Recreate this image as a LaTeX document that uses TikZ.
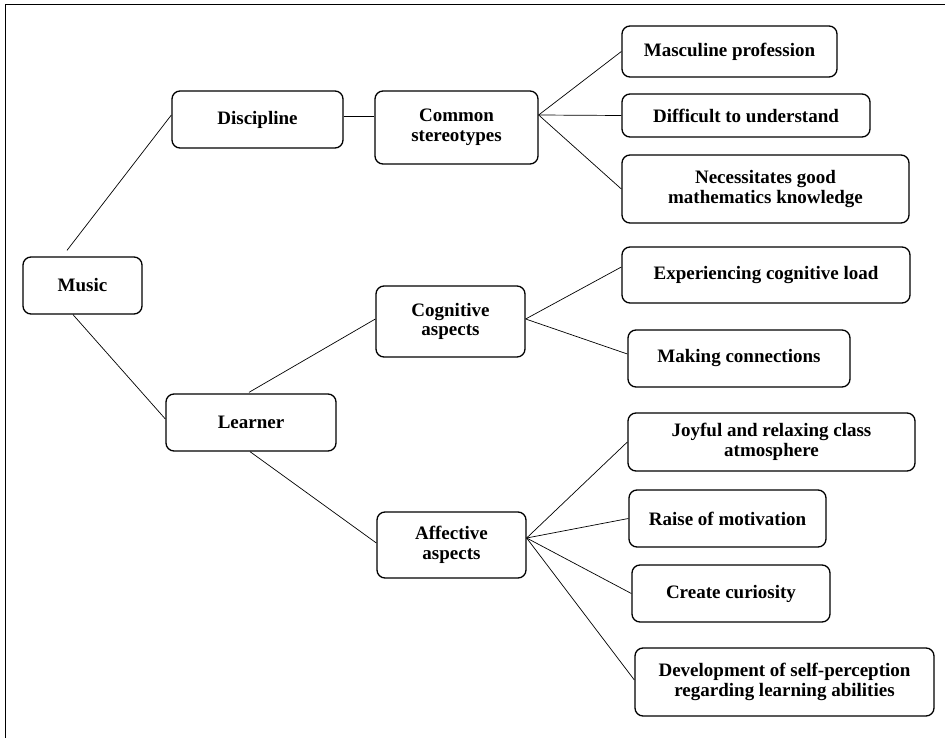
\documentclass[tikz,border=0pt]{standalone}
\usepackage{fontspec}
\setmainfont{Liberation Serif}
\begin{document}
\begin{tikzpicture}[x=1pt,y=-1pt,
  box/.style={draw=black,line width=1.3pt,rounded corners=8pt,align=center,
    inner sep=2pt,font=\fontsize{19}{19.5}\selectfont\bfseries},
  link/.style={draw=black,line width=0.7pt}]
\useasboundingbox (0,0) rectangle (945,738);
\draw[line width=0.9pt] (945,4) -- (5,4) -- (5,738);
% nodes
\node[box,minimum width=119pt,minimum height=57pt] (music) at (82.5,285.5) {Music};
\node[box,minimum width=171pt,minimum height=57pt] (disc) at (257.5,119.5) {Discipline};
\node[box,minimum width=170pt,minimum height=57pt] (learner) at (251,422.5) {Learner};
\node[box,minimum width=163pt,minimum height=73pt] (cs) at (456.5,127.5) {Common\\stereotypes};
\node[box,minimum width=149pt,minimum height=71pt] (cog) at (450.5,321.5) {Cognitive\\aspects};
\node[box,minimum width=149pt,minimum height=66pt] (aff) at (451.5,545) {Affective\\aspects};
\node[box,minimum width=215pt,minimum height=51pt] (masc) at (729.5,51.5) {Masculine profession};
\node[box,minimum width=248pt,minimum height=43pt] (diff) at (746,115.5) {Difficult to understand};
\node[box,minimum width=287pt,minimum height=68pt] (nec) at (765.5,189) {Necessitates good\\mathematics knowledge};
\node[box,minimum width=288pt,minimum height=56pt] (exp) at (766,275) {Experiencing cognitive load};
\node[box,minimum width=222pt,minimum height=57pt] (mak) at (739,358.5) {Making connections};
\node[box,minimum width=287pt,minimum height=58pt] (joy) at (771.5,442) {Joyful and relaxing class\\atmosphere};
\node[box,minimum width=197pt,minimum height=57pt] (rai) at (727.5,518.5) {Raise of motivation};
\node[box,minimum width=198pt,minimum height=57pt] (cre) at (731,593.5) {Create curiosity};
\node[box,minimum width=299pt,minimum height=68pt] (dev) at (784.5,682) {Development of self-perception\\regarding learning abilities};
% connectors
\draw[link] ([xshift=-15.5pt,yshift=6pt]music.north) -- ([yshift=4.5pt]disc.west);
\draw[link] ([xshift=-9.5pt]music.south) -- ([yshift=3.5pt]learner.west);
\draw[link] ([yshift=3.5pt]disc.east) -- ([yshift=11.5pt]cs.west);
\draw[link] ([yshift=12.5pt]cs.east) -- (masc.west);
\draw[link] ([yshift=12.5pt]cs.east) -- (diff.west);
\draw[link] ([yshift=12.5pt]cs.east) -- (nec.west);
\draw[link] ([xshift=-2pt,yshift=1pt]learner.north) -- ([yshift=2.5pt]cog.west);
\draw[link] ([xshift=-1pt]learner.south) -- ([yshift=2pt]aff.west);
\draw[link] ([yshift=2.5pt]cog.east) -- ([yshift=8pt]exp.west);
\draw[link] ([yshift=2.5pt]cog.east) -- ([yshift=4.5pt]mak.west);
\draw[link] ([yshift=7pt]aff.east) -- (joy.west);
\draw[link] ([yshift=7pt]aff.east) -- (rai.west);
\draw[link] ([yshift=7pt]aff.east) -- (cre.west);
\draw[link] ([yshift=7pt]aff.east) -- ([yshift=2pt]dev.west);
\end{tikzpicture}
\end{document}
